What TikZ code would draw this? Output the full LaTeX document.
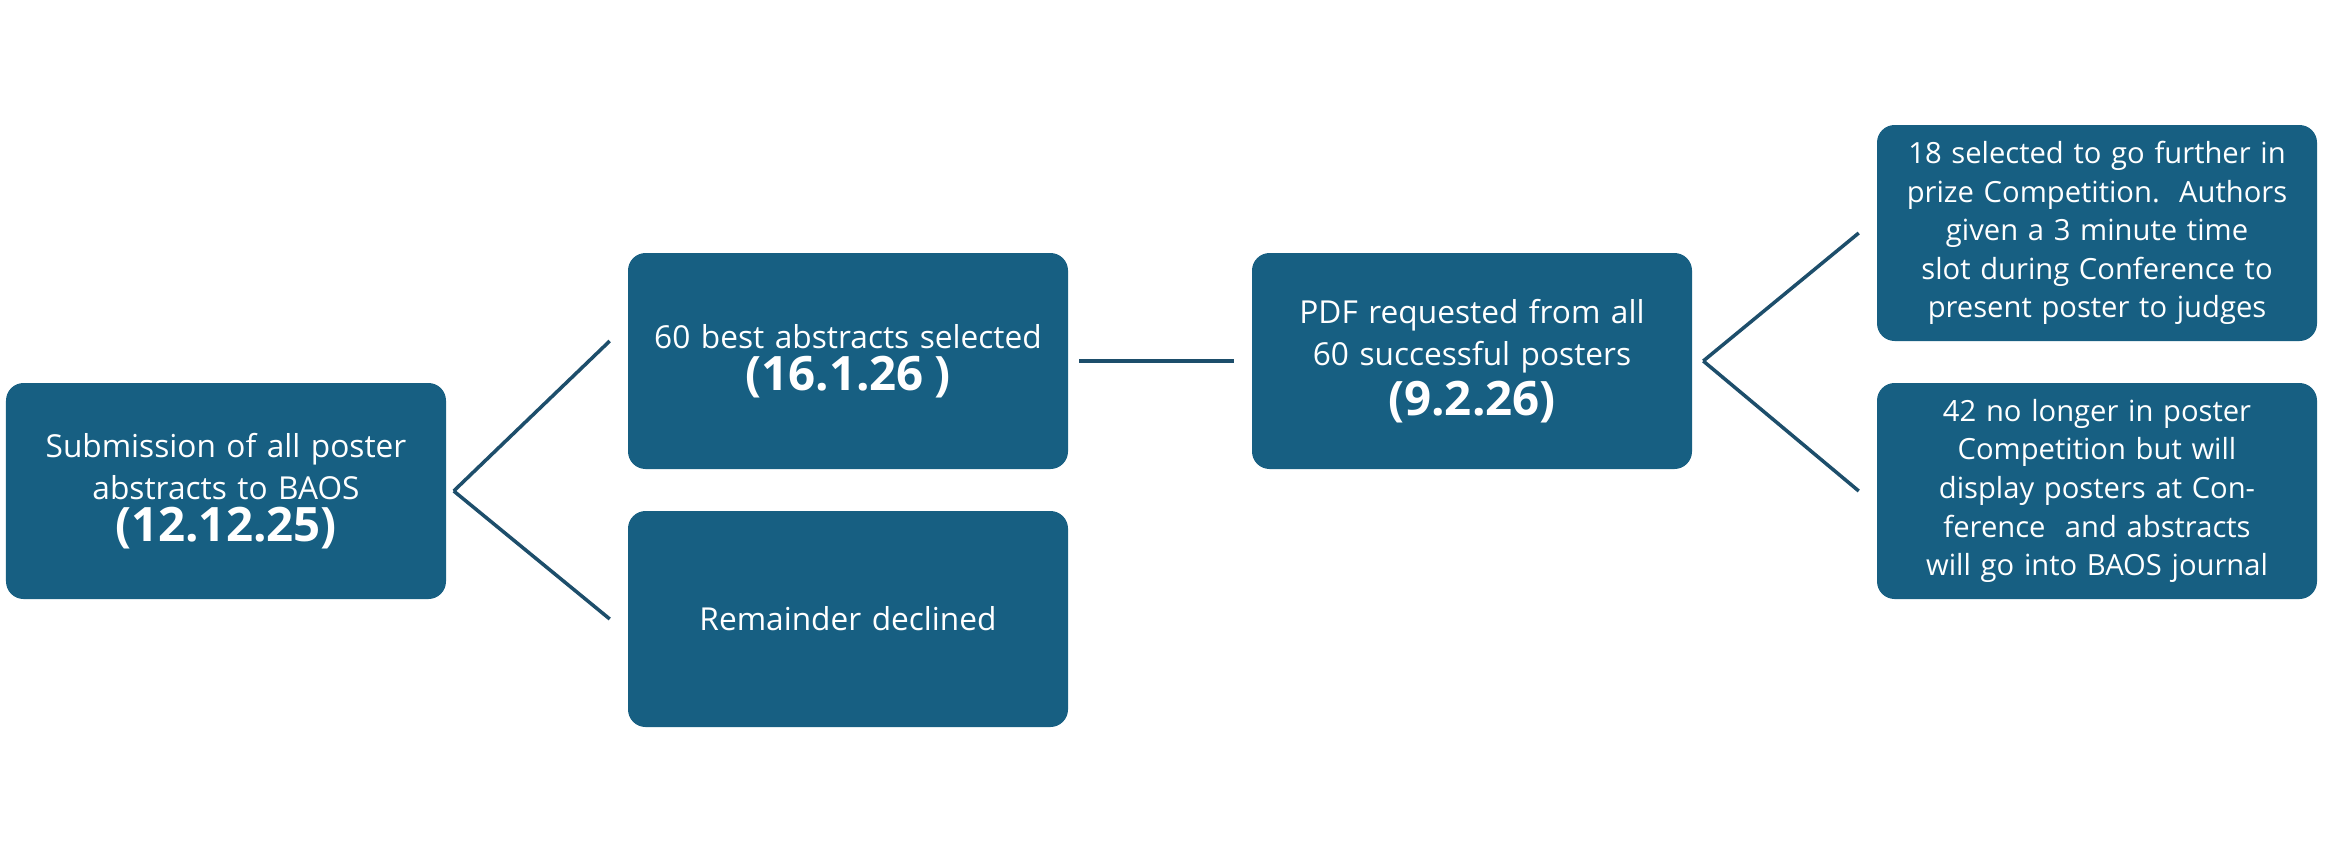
\documentclass[tikz,border=0pt]{standalone}
\usepackage{fontspec}
\setmainfont{Open Sans}
\usetikzlibrary{positioning}
\definecolor{boxblue}{HTML}{175F82}
\definecolor{lineblue}{HTML}{1D4E6B}
\tikzset{
  stagebox/.style={draw=none,fill=boxblue,rounded corners=5pt,minimum width=4.40cm,minimum height=2.16cm,
    text=white,align=center,text width=4.1cm,font=\fontsize{9}{12}\selectfont},
  link/.style={draw=lineblue,line width=1pt}
}
\newcommand{\stagedate}[1]{{\fontsize{13.5}{17}\selectfont\bfseries #1}}
\begin{document}
\begin{tikzpicture}
\useasboundingbox (0,0) rectangle (23.32,-8.57);
% stages
\node[stagebox] (submit) at (2.26,-4.91) {Submission of all poster abstracts to BAOS\\\stagedate{(12.12.25)}};
\node[stagebox] (best) at (8.48,-3.61) {60 best abstracts selected\\\stagedate{(16.1.26 )}};
\node[stagebox] (declined) at (8.48,-6.19) {Remainder declined};
\node[stagebox] (pdf) at (14.72,-3.61) {PDF requested from all 60 successful posters\\[2pt]\stagedate{(9.2.26)}};
\node[stagebox,font=\fontsize{8.3}{11}\selectfont] (prize) at (20.97,-2.33) {18 selected to go further in prize Competition.\ \ Authors given a 3 minute time slot during Conference to present poster to judges};
\node[stagebox,font=\fontsize{8.3}{11}\selectfont] (display) at (20.97,-4.91) {42 no longer in poster Competition but will display posters at Conference\ \ and abstracts will go into BAOS journal};
% connectors
\coordinate (fork1) at ([xshift=2pt]submit.east);
\coordinate (fork2) at ([xshift=3pt]pdf.east);
\draw[link] (fork1) -- ([xshift=-5pt,yshift=0.2cm]best.south west |- best.west);
\draw[link] (fork1) -- ([xshift=-5pt]declined.west);
\draw[link] ([xshift=3pt]best.east) -- ([xshift=-5pt]pdf.west);
\draw[link] (fork2) -- ([xshift=-5pt]prize.west);
\draw[link] (fork2) -- ([xshift=-5pt]display.west);
\end{tikzpicture}
\end{document}
